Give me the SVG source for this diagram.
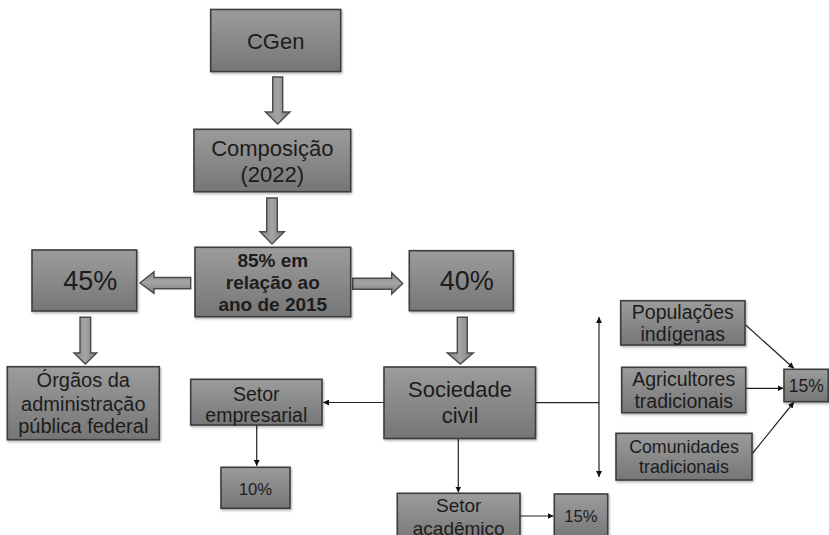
<svg xmlns="http://www.w3.org/2000/svg" width="829" height="535" viewBox="0 0 829 535">
<defs>
<linearGradient id="g" x1="0" y1="0" x2="0" y2="1">
<stop offset="0" stop-color="#9c9c9c"/>
<stop offset="1" stop-color="#767676"/>
</linearGradient>
<linearGradient id="ga" x1="0" y1="0" x2="1" y2="0">
<stop offset="0" stop-color="#8a8a8a"/>
<stop offset="0.5" stop-color="#a4a4a4"/>
<stop offset="1" stop-color="#7a7a7a"/>
</linearGradient>
<linearGradient id="gh" x1="0" y1="0" x2="0" y2="1">
<stop offset="0" stop-color="#8a8a8a"/>
<stop offset="0.5" stop-color="#a4a4a4"/>
<stop offset="1" stop-color="#7a7a7a"/>
</linearGradient>
<filter id="sh" x="-10%" y="-10%" width="120%" height="130%">
<feDropShadow dx="1" dy="1.5" stdDeviation="1" flood-color="#000" flood-opacity="0.3"/>
</filter>
<marker id="ah" viewBox="0 0 10 10" refX="10" refY="5" markerWidth="6" markerHeight="6" markerUnits="userSpaceOnUse" orient="auto-start-reverse">
<path d="M0,0 L10,5 L0,10 Z" fill="#111"/>
</marker>
</defs>
<style>
.box{fill:url(#g);stroke:#3c3c3c;stroke-width:1.6;filter:url(#sh)}
.barr{fill:url(#ga);stroke:#4a4a4a;stroke-width:1.4}
.harr{fill:url(#gh);stroke:#4a4a4a;stroke-width:1.4}
.t{font-family:"Liberation Sans",Arial,sans-serif;fill:#1c1c1c;text-anchor:middle}
.b{font-weight:bold}
.ln{stroke:#222;stroke-width:1.2;fill:none}
</style>
<rect width="829" height="535" fill="#ffffff"/>

<g id="connectors">
<path class="barr" d="M272.7,77 H282.7 V112 H290 L277.7,124 L265.4,112 H272.7 Z"/>
<path class="barr" d="M266.7,198 H277.3 V231.7 H284.3 L272,244 L260,231.7 H266.7 Z"/>
<path class="harr" d="M190.7,277.5 V288.7 H154 V293.3 L140,283 L154,271.7 V277.5 Z"/>
<path class="harr" d="M352.7,278.3 V289.3 H391.7 V294 L402.7,283.5 L391.7,272.7 V278.3 Z"/>
<path class="barr" d="M80,317.3 H90.7 V353 H96.7 L85.3,364 L74,353 H80 Z"/>
<path class="barr" d="M457.3,317.3 H467.3 V353 H473.3 L460.3,364 L447.3,353 H457.3 Z"/>
<line class="ln" x1="384" y1="402.5" x2="323" y2="402.5" marker-end="url(#ah)"/>
<line class="ln" x1="256.7" y1="425" x2="256.7" y2="466" marker-end="url(#ah)"/>
<line class="ln" x1="458.3" y1="438.5" x2="458.3" y2="492.5" marker-end="url(#ah)"/>
<line class="ln" x1="520" y1="516" x2="553.5" y2="516" marker-end="url(#ah)"/>
<line class="ln" x1="536" y1="402.7" x2="599" y2="402.7"/>
<line class="ln" x1="599" y1="317" x2="599" y2="477" marker-start="url(#ah)" marker-end="url(#ah)"/>
<line class="ln" x1="745.7" y1="325" x2="794" y2="368.5" marker-end="url(#ah)"/>
<line class="ln" x1="745.7" y1="388.3" x2="783.5" y2="388.3" marker-end="url(#ah)"/>
<line class="ln" x1="752" y1="454" x2="794" y2="402" marker-end="url(#ah)"/>
</g>

<g id="cgen">
<rect class="box" x="210.7" y="9.5" width="130" height="62"/>
<text class="t" x="275.7" y="48.5" font-size="22">CGen</text>
</g>

<g id="composicao">
<rect class="box" x="194" y="129.3" width="156.7" height="62.4"/>
<text class="t" x="272.3" y="156.3" font-size="22">Composição</text>
<text class="t" x="272.3" y="181.5" font-size="22">(2022)</text>
</g>

<g id="n85">
<rect class="box" x="195" y="247.3" width="155.7" height="69.4"/>
<text class="t b" x="272.8" y="266.7" font-size="19">85% em</text>
<text class="t b" x="272.8" y="288.5" font-size="19">relação ao</text>
<text class="t b" x="272.8" y="310.7" font-size="19">ano de 2015</text>
</g>

<g id="n45">
<rect class="box" x="32" y="250" width="104.7" height="61"/>
<text class="t" x="90.3" y="290" font-size="27">45%</text>
</g>

<g id="n40">
<rect class="box" x="409.3" y="250.7" width="104" height="60"/>
<text class="t" x="466.7" y="290" font-size="27">40%</text>
</g>

<g id="orgaos">
<rect class="box" x="7.3" y="366.7" width="152" height="73"/>
<text class="t" x="83.3" y="387" font-size="20">Órgãos da</text>
<text class="t" x="83.3" y="410.7" font-size="20">administração</text>
<text class="t" x="83.3" y="433.3" font-size="20">pública federal</text>
</g>

<g id="sociedade">
<rect class="box" x="384" y="367" width="151.5" height="71.5"/>
<text class="t" x="460" y="397.3" font-size="22">Sociedade</text>
<text class="t" x="460" y="422.7" font-size="22">civil</text>
</g>

<g id="setor-empresarial">
<rect class="box" x="190.7" y="379.3" width="131.3" height="45.7"/>
<text class="t" x="256.3" y="400.7" font-size="19.5">Setor</text>
<text class="t" x="256.3" y="421.7" font-size="19.5">empresarial</text>
</g>

<g id="n10">
<rect class="box" x="221" y="467.3" width="69" height="41"/>
<text class="t" x="255.5" y="495" font-size="16.7">10%</text>
</g>

<g id="setor-academico">
<rect class="box" x="397.3" y="493.3" width="122.7" height="50"/>
<text class="t" x="458.7" y="512.3" font-size="19">Setor</text>
<text class="t" x="458.7" y="535" font-size="19">acadêmico</text>
</g>

<g id="n15b">
<rect class="box" x="554.3" y="494" width="53.4" height="45"/>
<text class="t" x="581" y="521.7" font-size="16.7">15%</text>
</g>

<g id="populacoes">
<rect class="box" x="620.7" y="300.7" width="124.3" height="44.3"/>
<text class="t" x="682.8" y="319.3" font-size="19.5">Populações</text>
<text class="t" x="682.8" y="340.5" font-size="19.5">indígenas</text>
</g>

<g id="agricultores">
<rect class="box" x="621.7" y="367.3" width="124" height="45.4"/>
<text class="t" x="683.7" y="386" font-size="19.5">Agricultores</text>
<text class="t" x="683.7" y="407.7" font-size="19.5">tradicionais</text>
</g>

<g id="comunidades">
<rect class="box" x="616" y="433.3" width="136" height="46.7"/>
<text class="t" x="684" y="452.7" font-size="17.8">Comunidades</text>
<text class="t" x="684" y="472.7" font-size="17.8">tradicionais</text>
</g>

<g id="n15r">
<rect class="box" x="784" y="369.3" width="44.3" height="32.4"/>
<text class="t" x="806.2" y="392.3" font-size="17.5">15%</text>
</g>
</svg>
